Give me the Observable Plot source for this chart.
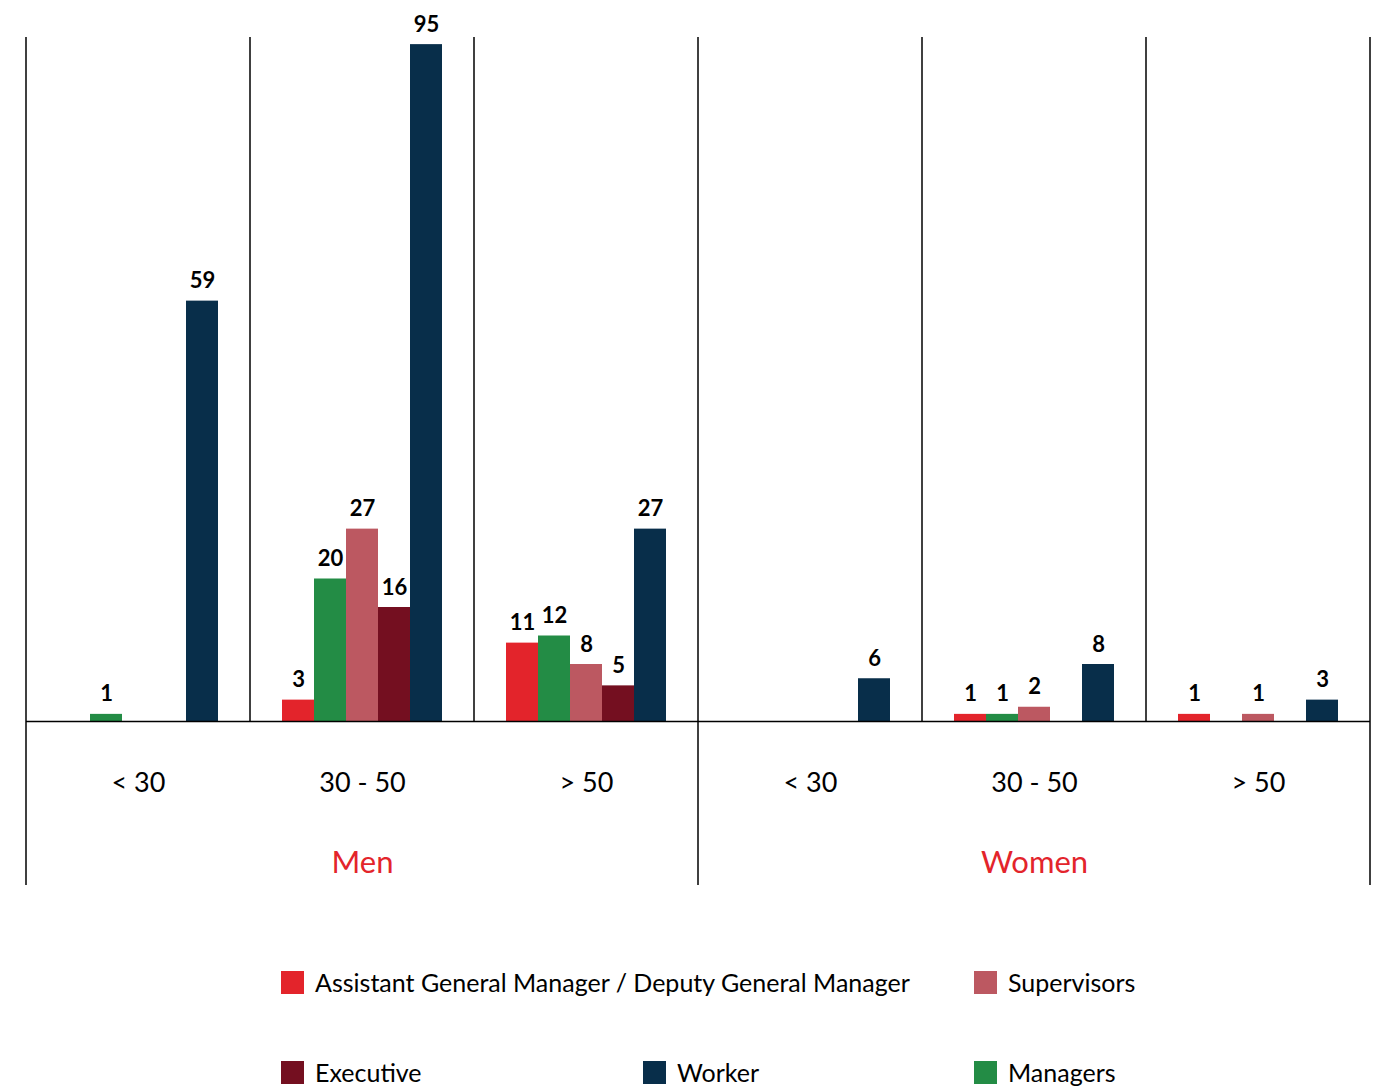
<!DOCTYPE html>
<html><head><meta charset="utf-8">
<script src="https://cdn.jsdelivr.net/npm/d3@7"></script>
<script src="https://cdn.jsdelivr.net/npm/@observablehq/plot@0.6"></script>
<style>
body{margin:0;background:#fff;font-family:Lato,"Noto Sans",sans-serif;}
#legend{display:grid;grid-template-columns:362px 331px auto;grid-auto-rows:90px;padding-left:281px;margin-top:37px;width:1093px;}
.item{display:flex;align-items:center;font-size:25px;color:#000;white-space:nowrap;}
.item.wide{grid-column:span 2;}
.sw{width:23px;height:23px;margin-right:11px;flex:none;}
</style></head><body>
<div id="chart"></div>
<div id="legend"></div>
<script>
const genders = ["Men", "Women"];
const ageGroups = ["< 30", "30 - 50", "> 50"];
const roles = ["Assistant General Manager / Deputy General Manager", "Managers", "Supervisors", "Executive", "Worker"];
const roleColors = ["#e3242b", "#238c45", "#bc5861", "#740f20", "#082e4a"];
// values per age group, in the order of roles
const menValues = [[0, 1, 0, 0, 59], [3, 20, 27, 16, 95], [11, 12, 8, 5, 27]];
const womenValues = [[0, 0, 0, 0, 6], [1, 1, 2, 0, 8], [1, 0, 1, 0, 3]];
const legendRows = [
  ["Assistant General Manager / Deputy General Manager", "Supervisors"],
  ["Executive", "Worker", "Managers"]
];

const valuesByGender = {Men: menValues, Women: womenValues};
const groups = [];
const data = [];
for (const g of genders) {
  ageGroups.forEach((a, i) => {
    const key = g + "|" + a;
    groups.push({group: key, gender: g, age: a, idx: i});
    roles.forEach((r, j) => data.push({group: key, gender: g, age: a, role: r, value: valuesByGender[g][i][j]}));
  });
}
const groupKeys = groups.map(d => d.group);
const genderLabels = groups.filter(d => d.idx === 1);

const W = 1374, H = 900;
const plot = Plot.plot({
  width: W, height: H,
  marginTop: 37, marginBottom: 179, marginLeft: 26, marginRight: 4,
  style: {fontFamily: "Lato, 'Noto Sans', sans-serif", background: "white", overflow: "visible"},
  fx: {domain: groupKeys, padding: 0, axis: null},
  x: {domain: roles, paddingInner: 0, paddingOuter: 0.935, axis: null},
  y: {domain: [0, 96], axis: null},
  color: {domain: roles, range: roleColors},
  marks: [
    Plot.barY(data, {fx: "group", x: "role", y: "value", fill: "role"}),
    Plot.text(data.filter(d => d.value > 0), {fx: "group", x: "role", y: "value", text: d => String(d.value), lineAnchor: "bottom", dy: -13, fontSize: 22, fontWeight: 700, fill: "black"}),
    Plot.text(groups, {fx: "group", text: "age", frameAnchor: "bottom", dy: 70, fontSize: 27, fill: "black"}),
    Plot.text(genderLabels, {fx: "group", text: "gender", frameAnchor: "bottom", dy: 151, fontSize: 31, fill: "#e3242b"}),
    Plot.ruleY([0], {stroke: "black", strokeWidth: 1.5})
  ]
});
document.getElementById("chart").appendChild(plot);

// group divider lines, positioned from the plot's own scales
const fxS = plot.scale("fx"), yS = plot.scale("y");
const svg = d3.select(plot);
const yTop = yS.apply(yS.domain[1]);
const yBase = yS.apply(0);
const yLow = H - 15;
const edges = groups.map((g, i) => ({x: fxS.apply(g.group), genderEdge: g.idx === 0}));
edges.push({x: fxS.apply(groupKeys[groupKeys.length - 1]) + fxS.bandwidth, genderEdge: true});
svg.append("g").selectAll("line").data(edges).join("line")
  .attr("x1", d => d.x).attr("x2", d => d.x)
  .attr("y1", yTop).attr("y2", d => d.genderEdge ? yLow : yBase)
  .attr("stroke", "black").attr("stroke-width", 1.5);

// legend
const colorOf = Object.fromEntries(roles.map((r, i) => [r, roleColors[i]]));
const leg = d3.select("#legend");
legendRows.forEach((row, ri) => {
  row.forEach((name, ci) => {
    const it = leg.append("div").attr("class", "item" + (ri === 0 && ci === 0 ? " wide" : ""));
    it.append("div").attr("class", "sw").style("background", colorOf[name]);
    it.append("span").text(name);
  });
});
</script>
</body></html>
